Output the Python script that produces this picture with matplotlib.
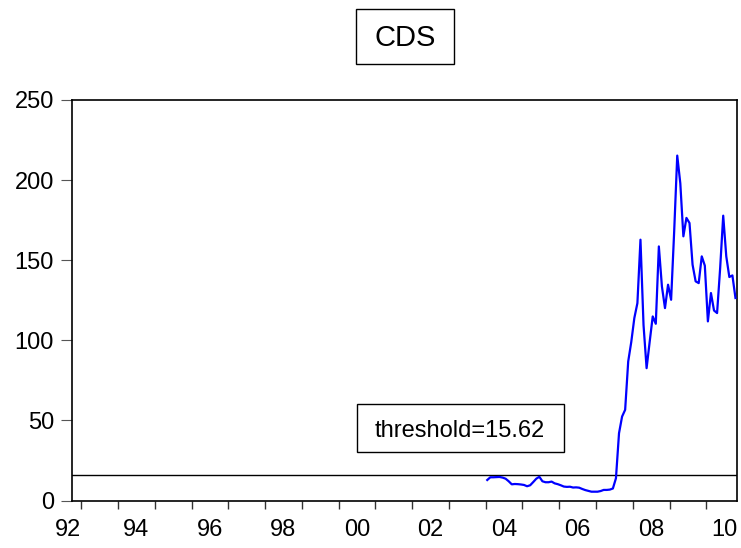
"""EViews-style CDS series with threshold line."""

import matplotlib
matplotlib.use("Agg")
import matplotlib.pyplot as plt
from matplotlib.patches import Rectangle
import numpy as np

plt.rcParams["font.family"] = ["Liberation Sans", "DejaVu Sans"]

FIRST_YEAR = 2004
CDS = [
    12.8, 14.5, 14.5, 14.6, 14.7, 14.3, 13.6, 12.0, 10.1, 10.3, 10.2, 10.0,
    9.7, 8.9, 9.5, 11.5, 13.6, 14.8, 12.0, 11.4, 11.4, 11.8, 10.7, 10.2,
    9.5, 8.7, 8.5, 8.6, 8.1, 8.2, 8.0, 7.2, 6.5, 6.0, 5.5, 5.5,
    5.5, 5.9, 6.6, 6.6, 6.8, 7.5, 13.9, 42.0, 52.4, 56.6, 86.8, 99.0,
    113.9, 123.2, 162.8, 109.5, 82.6, 99.0, 114.9, 110.3, 158.6, 133.6, 120.1, 134.7,
    125.3, 168.0, 215.3, 198.0, 164.9, 176.4, 173.2, 147.2, 136.8, 135.7, 152.4, 146.6,
    111.8, 129.5, 118.6, 117.0, 145.0, 177.8, 152.4, 139.5, 140.5, 126.4,
]
THRESHOLD = 15.62
SAMPLE_START = 1992 + 9 / 12   # 1992M10
SAMPLE_END = 2010 + 10 / 12    # end of 2010M10
Y_TICKS = [0, 50, 100, 150, 200, 250]
YEAR_TICKS = list(range(1993, 2011))
YEAR_LABELS = ["94", "96", "98", "00", "02", "04", "06", "08", "10"]
LABEL_YEARS = [1994, 1996, 1998, 2000, 2002, 2004, 2006, 2008, 2010]
LABEL_PAD = 13


def main() -> None:
    fig = plt.figure(figsize=(7.41, 5.48), dpi=100)
    ax = fig.add_axes([72 / 741, 1 - 500.5 / 548, 665 / 741, 400.5 / 548])

    dates = FIRST_YEAR + (np.arange(len(CDS)) + 0.5) / 12
    ax.axhline(THRESHOLD, color="black", linewidth=1.0, zorder=2)
    ax.plot(dates, CDS, color="#0000FF", linewidth=1.6, zorder=3)

    ax.set_xlim(SAMPLE_START, SAMPLE_END)
    ax.set_ylim(0, 250)

    ax.set_yticks(Y_TICKS)
    ax.tick_params(axis="y", direction="out", length=8, width=0.8, color="#555555",
                   labelsize=17, pad=5)

    ax.set_xticks(YEAR_TICKS)
    ax.set_xticklabels([])
    ax.set_xticks([y + 0.5 for y in LABEL_YEARS], minor=True)
    ax.set_xticklabels(YEAR_LABELS, minor=True)
    ax.tick_params(axis="x", which="major", direction="out", length=6, width=1.0,
                   color="#333333")
    ax.tick_params(axis="x", which="minor", length=0, labelsize=17, pad=LABEL_PAD)
    # first label sits just left of the sample start
    ax.annotate("92", xy=(SAMPLE_START, 0), xycoords=("data", "axes fraction"),
                xytext=(-3, -LABEL_PAD), textcoords="offset points",
                ha="center", va="top", fontsize=17)

    for spine in ax.spines.values():
        spine.set_linewidth(1.2)

    # threshold label box
    ax.add_patch(Rectangle((0.428, 0.1203), 0.312, 0.1199, transform=ax.transAxes,
                           facecolor="white", edgecolor="black", linewidth=1.0,
                           zorder=4))
    ax.text(0.5827, 0.158, f"threshold={THRESHOLD}", transform=ax.transAxes,
            ha="center", va="baseline", fontsize=17, zorder=5)

    # boxed title
    fig.add_artist(Rectangle((355.7 / 741, 1 - 64.3 / 548), 98 / 741, 55 / 548,
                             transform=fig.transFigure, facecolor="white",
                             edgecolor="black", linewidth=1.0))
    fig.text(404.7 / 741, 1 - 46 / 548, "CDS", ha="center", va="baseline", fontsize=21)

    fig.savefig("out.png", dpi=100)
    plt.close(fig)


if __name__ == "__main__":
    main()
